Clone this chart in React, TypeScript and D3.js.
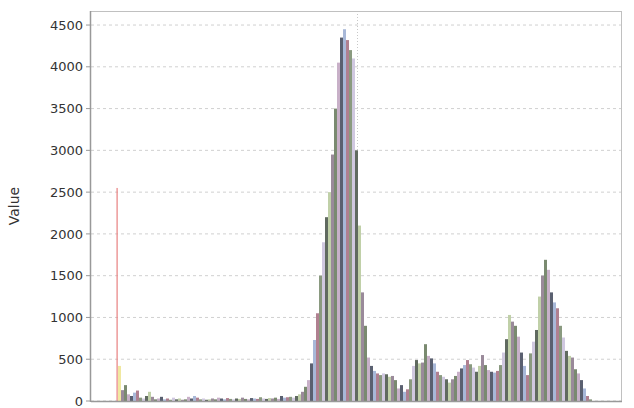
import React from "react";
import * as d3 from "d3";

// Histogram bins (index = bin number across the plot)
const binValues: number[] = [
  0, 0, 0, 0, 0, 0, 0, 0,
  2550, 420, 130, 190, 80, 60, 100, 125, 40, 30,
  60, 110, 50, 20, 30, 50, 20, 30, 15, 40,
  20, 30, 15, 20, 50, 30, 60, 40, 20, 30,
  15, 20, 30, 20, 40, 30, 20, 35, 25, 20,
  30, 25, 40, 25, 20, 35, 30, 25, 45, 30,
  25, 35, 30, 40, 25, 60, 40, 45, 50, 40,
  60, 80, 110, 170, 250, 450, 730, 1050, 1500, 1900,
  2200, 2500, 2950, 3500, 4050, 4350, 4450, 4320, 4200, 4100,
  3000, 2100, 1300, 900, 520, 420, 360, 330, 310, 330,
  320, 290, 300, 250, 150, 190, 110, 140, 260, 420,
  490, 450, 460, 680, 540, 510, 450, 350, 310, 290,
  260, 220, 260, 300, 350, 390, 430, 490, 440, 400,
  350, 420, 550, 430, 370, 350, 340, 360, 430, 580,
  740, 1030, 950, 900, 770, 580, 420, 310, 570, 710,
  850, 1250, 1500, 1690, 1570, 1300, 1180, 1110, 900, 760,
  600, 540, 520, 380, 330, 250, 150, 60, 20, 0,
  0, 0, 0, 0, 0, 0, 0, 0, 0, 0,
];
const binCount = 177;
const yTicks: number[] = [0, 500, 1000, 1500, 2000, 2500, 3000, 3500, 4000, 4500];
const yLabel = "Value";
const barColors: string[] = [
  "#9a8a9a", "#7a8a70", "#c8b0c8", "#5a6070", "#a8b8d8",
  "#b08090", "#8a9a80", "#d0c8e0", "#606a60", "#c0d0a8",
];

export default function App() {
  const W = 634, H = 408;
  const left = 91, right = 622, top = 11, bottom = 401;
  const x = d3.scaleLinear().domain([0, binCount]).range([left, right]);
  const y = d3.scaleLinear().domain([0, 4668]).range([bottom, top]);
  const step = x(1) - x(0);
  const colorFor = (i: number) => {
    if (i === 8) return "#e88080";
    if (i === 9) return "#f0e8a0";
    return barColors[i % barColors.length];
  };
  return (
    <svg width={W} height={H} style={{ position: "fixed", left: 0, top: 0, background: "#fff" }}
      fontFamily="DejaVu Sans, sans-serif">
      {/* grid */}
      {yTicks.map((t) => (
        <line key={"g" + t} x1={left} x2={right} y1={y(t)} y2={y(t)}
          stroke="#d0d0d0" strokeDasharray="3,3" strokeWidth={1} />
      ))}
      {/* crosshair */}
      <line x1={357.5} x2={357.5} y1={top} y2={bottom} stroke="#c8c8c8" strokeDasharray="1,2" />
      {/* bars */}
      {binValues.map((v, i) =>
        v > 0 ? (
          <rect key={"b" + i} x={i === 8 ? x(i) + 1.5 : x(i)} y={y(v)} width={i === 8 ? 1.2 : step}
            height={bottom - y(v)} fill={colorFor(i)} />
        ) : null
      )}
      {/* frame */}
      <line x1={left} x2={right} y1={top + 0.5} y2={top + 0.5} stroke="#c0c0c0" />
      <line x1={right - 0.5} x2={right - 0.5} y1={top} y2={bottom} stroke="#c0c0c0" />
      <line x1={left} x2={right} y1={bottom + 0.5} y2={bottom + 0.5} stroke="#999" strokeWidth={1.5} />
      <line x1={left - 0.5} x2={left - 0.5} y1={top} y2={bottom + 1} stroke="#999" strokeWidth={1.5} />
      {/* ticks */}
      {yTicks.map((t) => (
        <g key={"t" + t}>
          <line x1={left - 5} x2={left - 1} y1={y(t)} y2={y(t)} stroke="#999" />
          <text x={left - 8} y={y(t)} dy="0.36em" textAnchor="end" fontSize={13} fill="#333">
            {t}
          </text>
        </g>
      ))}
      <text transform={`translate(19,${(top + bottom) / 2}) rotate(-90)`} textAnchor="middle"
        fontSize={14} fill="#333">
        {yLabel}
      </text>
    </svg>
  );
}
